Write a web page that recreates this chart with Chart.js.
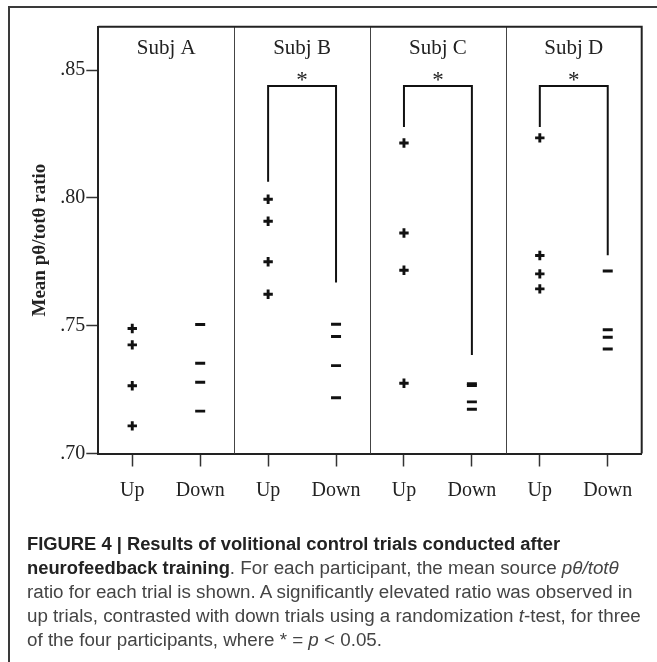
<!DOCTYPE html>
<html>
<head>
<meta charset="utf-8">
<script src="https://cdn.jsdelivr.net/npm/chart.js@4"></script>
<style>
  html, body { margin: 0; padding: 0; background: #fff; }
  #wrap { position: relative; width: 657px; height: 662px; overflow: hidden; }
  #frame { position: absolute; left: 8px; top: 6px; width: 700px; height: 700px;
           border-left: 2px solid #3a3a3a; border-top: 2px solid #3a3a3a; }
  #grafico { position: absolute; left: 0; top: 0; }
  #legenda { position: absolute; left: 27px; top: 532px; white-space: nowrap;
             font-family: 'Liberation Sans', Arial, sans-serif; font-size: 18.8px;
             line-height: 24px; color: #444; }
  #legenda b { color: #222; font-size: 18.35px; }
</style>
</head>
<body>
<div id="wrap">
  <div id="frame"></div>
  <canvas id="grafico" width="657" height="662"></canvas>
  <div id="legenda"><b>FIGURE 4 | Results of volitional control trials conducted after<br>neurofeedback training</b>. For each participant, the mean source <i>pθ/totθ</i><br>ratio for each trial is shown. A significantly elevated ratio was observed in<br>up trials, contrasted with down trials using a randomization <i>t</i>-test, for three<br>of the four participants, where * = <i>p</i> &lt; 0.05.</div>
</div>
<script>
// Rótulos do eixo x e dos participantes
const xLabels = ['Up', 'Down', 'Up', 'Down', 'Up', 'Down', 'Up', 'Down'];
const subjects = ['Subj A', 'Subj B', 'Subj C', 'Subj D'];

// Razão média por tentativa (up / down) de cada participante
const upA = [0.7489, 0.7425, 0.7265, 0.7108];
const downA = [0.7505, 0.7353, 0.7279, 0.7166];
const upB = [0.7995, 0.7909, 0.7750, 0.7623];
const downB = [0.7506, 0.7458, 0.7344, 0.7218];
const upC = [0.8215, 0.7863, 0.7717, 0.7275];
const downC = [0.7273, 0.7266, 0.7202, 0.7173];
const upD = [0.8235, 0.7775, 0.7703, 0.7644];
const downD = [0.7714, 0.7484, 0.7455, 0.7409];

// Eixo y
const yTicks = [0.70, 0.75, 0.80, 0.85];
const yMin = 0.70;
const yMax = 0.867;

// Colchetes de significância (null = sem diferença)
const significant = ['', '*', '*', '*'];
const bracketTop = 0.8438;
const bracketUpEnd = [null, 0.8063, 0.8278, 0.8278];
const bracketDownEnd = [null, 0.7669, 0.7385, 0.7776];

const ups = [upA, upB, upC, upD];
const downs = [downA, downB, downC, downD];

const upPoints = ups.flatMap((arr, i) => arr.map(v => ({ x: 2 * i, y: v })));
const downPoints = downs.flatMap((arr, i) => arr.map(v => ({ x: 2 * i + 1, y: v })));

const datasets = [
  {
    label: 'Up',
    data: upPoints,
    showLine: false,
    pointStyle: 'cross',
    pointRadius: 4.7,
    pointBorderWidth: 2.9,
    pointBorderColor: '#111',
    pointBackgroundColor: '#111'
  },
  {
    label: 'Down',
    data: downPoints,
    showLine: false,
    pointStyle: 'line',
    pointRadius: 5,
    pointBorderWidth: 2.9,
    pointBorderColor: '#111',
    pointBackgroundColor: '#111'
  }
];

// Colchetes como linhas
subjects.forEach((s, i) => {
  if (bracketUpEnd[i] === null) return;
  datasets.push({
    label: 'bracket ' + s,
    data: [
      { x: 2 * i, y: bracketUpEnd[i] },
      { x: 2 * i, y: bracketTop },
      { x: 2 * i + 1, y: bracketTop },
      { x: 2 * i + 1, y: bracketDownEnd[i] }
    ],
    showLine: true,
    borderColor: '#111',
    borderWidth: 2,
    pointRadius: 0,
    fill: false
  });
});

// Moldura, divisórias, títulos e asteriscos
const extras = {
  id: 'extras',
  afterDatasetsDraw(chart) {
    const { ctx, chartArea: a, scales: { x, y } } = chart;
    ctx.save();
    ctx.strokeStyle = '#444';
    ctx.lineWidth = 1;
    for (let i = 1; i < subjects.length; i++) {
      const px = Math.round(x.getPixelForValue(2 * i - 0.5)) + 0.5;
      ctx.beginPath();
      ctx.moveTo(px, a.top);
      ctx.lineTo(px, a.bottom);
      ctx.stroke();
    }
    ctx.strokeStyle = '#222';
    ctx.lineWidth = 2;
    ctx.beginPath();
    ctx.moveTo(a.left, a.top);
    ctx.lineTo(a.right, a.top);
    ctx.lineTo(a.right, a.bottom);
    ctx.stroke();

    ctx.fillStyle = '#222';
    ctx.textAlign = 'center';
    ctx.textBaseline = 'alphabetic';
    subjects.forEach((s, i) => {
      const cx = x.getPixelForValue(2 * i + 0.5);
      ctx.font = '21px "Liberation Serif"';
      ctx.fillText(s, cx, a.top + 27.5);
      if (significant[i]) {
        ctx.font = '23px "Liberation Serif"';
        ctx.fillText(significant[i], cx, y.getPixelForValue(bracketTop) + 1);
      }
    });
    ctx.restore();
  }
};

const ctx = document.getElementById('grafico').getContext('2d');

const grafico = new Chart(ctx, {
  type: 'scatter',
  data: { datasets },
  options: {
    responsive: false,
    animation: false,
    layout: { padding: { left: 0, top: 26.7, right: 15.3, bottom: 148.5 } },
    plugins: { legend: { display: false }, tooltip: { enabled: false } },
    scales: {
      x: {
        type: 'linear',
        min: -0.5,
        max: 7.5,
        afterBuildTicks: s => { s.ticks = xLabels.map((_, i) => ({ value: i })); },
        afterFit: s => { s.height = 60; },
        border: { display: true, color: '#222', width: 2 },
        grid: { drawOnChartArea: false, drawTicks: true, tickLength: 13, tickColor: '#333', tickWidth: 1.5 },
        ticks: {
          padding: 12,
          color: '#222',
          font: { family: 'Liberation Serif', size: 20 },
          callback: v => xLabels[v]
        }
      },
      y: {
        min: yMin,
        max: yMax,
        afterBuildTicks: s => { s.ticks = yTicks.map(v => ({ value: v })); },
        afterFit: s => { s.width = 98.3; },
        border: { display: true, color: '#222', width: 2 },
        grid: { drawOnChartArea: false, drawTicks: true, tickLength: 12, tickColor: '#333', tickWidth: 1.5 },
        ticks: {
          padding: 1,
          color: '#222',
          font: { family: 'Liberation Serif', size: 20 },
          callback: v => v.toFixed(2).slice(1)
        },
        title: {
          display: true,
          text: 'Mean pθ/totθ ratio',
          color: '#222',
          font: { family: 'Liberation Serif', size: 19, weight: 'bold' },
          padding: { top: 28.6, bottom: 0 }
        }
      }
    }
  },
  plugins: [extras]
});
</script>
</body>
</html>
